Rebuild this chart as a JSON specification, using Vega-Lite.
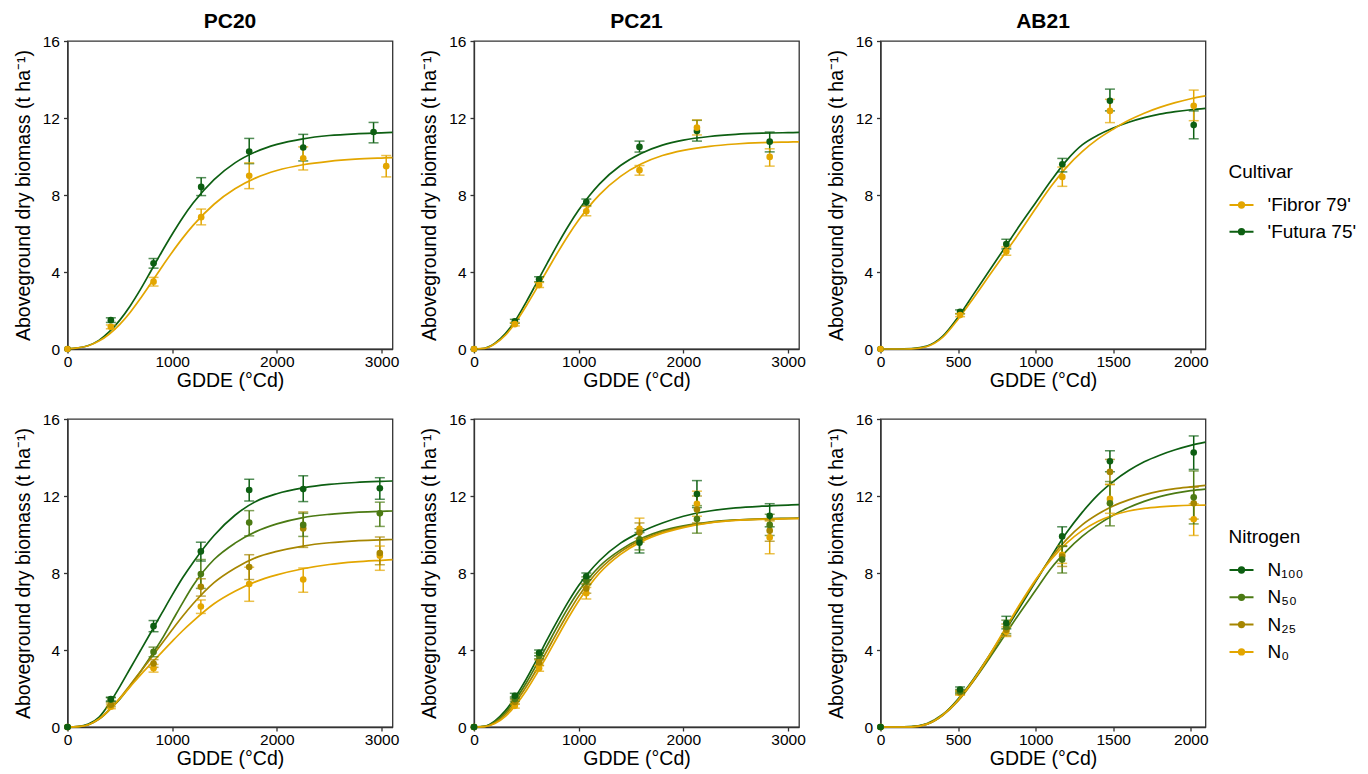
{
"$schema":"https://vega.github.io/schema/vega-lite/v6.json",
"padding":{"left":12.5,"top":10,"right":0,"bottom":0},
"background":"white",
"config":{
 "font":"Liberation Sans",
 "view":{"stroke":"#333333","strokeWidth":1.3},
 "axis":{"domainColor":"#333333","tickColor":"#333333","labelColor":"#000000","titleColor":"#000000","labelFontSize":15.5,"titleFontSize":19.5,"titleFontWeight":"normal","grid":false,"tickSize":4,"labelPadding":4,"domainWidth":1.3,"tickWidth":1.3,"labelFlush":false,"labelOverlap":false},
 "axisX":{"titlePadding":2,"labelPadding":1,"format":"d"},
 "axisY":{"titlePadding":9},
 "title":{"fontSize":21,"fontWeight":"bold","offset":2,"color":"#000000","anchor":"middle"},
 "legend":{"titleFontSize":19,"titleFontWeight":"normal","labelFontSize":19,"titleColor":"#000000","labelColor":"#000000","symbolType":"M-1,0H1M-0.22,0A0.22,0.22 0 1,1 0.22,0A0.22,0.22 0 1,1 -0.22,0Z","symbolSize":576,"symbolStrokeWidth":2,"symbolOpacity":1,"labelOffset":13,"titlePadding":10,"padding":0}
},
"datasets":{
"curves":[
{"p":"P20c","s":"'Futura 75'","x":0,"y":0.01},{"p":"P20c","s":"'Futura 75'","x":100,"y":0.06},{"p":"P20c","s":"'Futura 75'","x":200,"y":0.18},{"p":"P20c","s":"'Futura 75'","x":300,"y":0.45},{"p":"P20c","s":"'Futura 75'","x":400,"y":0.9},{"p":"P20c","s":"'Futura 75'","x":500,"y":1.5},{"p":"P20c","s":"'Futura 75'","x":600,"y":2.25},{"p":"P20c","s":"'Futura 75'","x":700,"y":3.12},{"p":"P20c","s":"'Futura 75'","x":800,"y":4.08},{"p":"P20c","s":"'Futura 75'","x":900,"y":5.04},{"p":"P20c","s":"'Futura 75'","x":1000,"y":5.96},{"p":"P20c","s":"'Futura 75'","x":1100,"y":6.82},{"p":"P20c","s":"'Futura 75'","x":1200,"y":7.58},{"p":"P20c","s":"'Futura 75'","x":1400,"y":8.8},{"p":"P20c","s":"'Futura 75'","x":1600,"y":9.67},{"p":"P20c","s":"'Futura 75'","x":1800,"y":10.25},{"p":"P20c","s":"'Futura 75'","x":2000,"y":10.63},{"p":"P20c","s":"'Futura 75'","x":2250,"y":10.92},{"p":"P20c","s":"'Futura 75'","x":2500,"y":11.09},{"p":"P20c","s":"'Futura 75'","x":2750,"y":11.18},{"p":"P20c","s":"'Futura 75'","x":3000,"y":11.23},{"p":"P20c","s":"'Futura 75'","x":3105,"y":11.25},
{"p":"P20c","s":"'Fibror 79'","x":0,"y":0.01},{"p":"P20c","s":"'Fibror 79'","x":100,"y":0.06},{"p":"P20c","s":"'Fibror 79'","x":200,"y":0.17},{"p":"P20c","s":"'Fibror 79'","x":300,"y":0.41},{"p":"P20c","s":"'Fibror 79'","x":400,"y":0.78},{"p":"P20c","s":"'Fibror 79'","x":500,"y":1.28},{"p":"P20c","s":"'Fibror 79'","x":600,"y":1.91},{"p":"P20c","s":"'Fibror 79'","x":700,"y":2.65},{"p":"P20c","s":"'Fibror 79'","x":800,"y":3.44},{"p":"P20c","s":"'Fibror 79'","x":900,"y":4.25},{"p":"P20c","s":"'Fibror 79'","x":1000,"y":5.03},{"p":"P20c","s":"'Fibror 79'","x":1100,"y":5.76},{"p":"P20c","s":"'Fibror 79'","x":1200,"y":6.42},{"p":"P20c","s":"'Fibror 79'","x":1400,"y":7.52},{"p":"P20c","s":"'Fibror 79'","x":1600,"y":8.32},{"p":"P20c","s":"'Fibror 79'","x":1800,"y":8.89},{"p":"P20c","s":"'Fibror 79'","x":2000,"y":9.27},{"p":"P20c","s":"'Fibror 79'","x":2250,"y":9.57},{"p":"P20c","s":"'Fibror 79'","x":2500,"y":9.75},{"p":"P20c","s":"'Fibror 79'","x":2750,"y":9.86},{"p":"P20c","s":"'Fibror 79'","x":3000,"y":9.92},{"p":"P20c","s":"'Fibror 79'","x":3105,"y":9.94},
{"p":"P21c","s":"'Futura 75'","x":0,"y":0},{"p":"P21c","s":"'Futura 75'","x":100,"y":0.04},{"p":"P21c","s":"'Futura 75'","x":200,"y":0.3},{"p":"P21c","s":"'Futura 75'","x":300,"y":0.8},{"p":"P21c","s":"'Futura 75'","x":400,"y":1.52},{"p":"P21c","s":"'Futura 75'","x":500,"y":2.45},{"p":"P21c","s":"'Futura 75'","x":600,"y":3.45},{"p":"P21c","s":"'Futura 75'","x":700,"y":4.46},{"p":"P21c","s":"'Futura 75'","x":800,"y":5.45},{"p":"P21c","s":"'Futura 75'","x":900,"y":6.38},{"p":"P21c","s":"'Futura 75'","x":1000,"y":7.22},{"p":"P21c","s":"'Futura 75'","x":1100,"y":7.95},{"p":"P21c","s":"'Futura 75'","x":1200,"y":8.58},{"p":"P21c","s":"'Futura 75'","x":1400,"y":9.53},{"p":"P21c","s":"'Futura 75'","x":1600,"y":10.17},{"p":"P21c","s":"'Futura 75'","x":1800,"y":10.59},{"p":"P21c","s":"'Futura 75'","x":2000,"y":10.85},{"p":"P21c","s":"'Futura 75'","x":2250,"y":11.04},{"p":"P21c","s":"'Futura 75'","x":2500,"y":11.15},{"p":"P21c","s":"'Futura 75'","x":2750,"y":11.21},{"p":"P21c","s":"'Futura 75'","x":3000,"y":11.24},{"p":"P21c","s":"'Futura 75'","x":3105,"y":11.25},
{"p":"P21c","s":"'Fibror 79'","x":0,"y":0},{"p":"P21c","s":"'Fibror 79'","x":100,"y":0.03},{"p":"P21c","s":"'Fibror 79'","x":200,"y":0.27},{"p":"P21c","s":"'Fibror 79'","x":300,"y":0.72},{"p":"P21c","s":"'Fibror 79'","x":400,"y":1.4},{"p":"P21c","s":"'Fibror 79'","x":500,"y":2.25},{"p":"P21c","s":"'Fibror 79'","x":600,"y":3.16},{"p":"P21c","s":"'Fibror 79'","x":700,"y":4.09},{"p":"P21c","s":"'Fibror 79'","x":800,"y":5.02},{"p":"P21c","s":"'Fibror 79'","x":900,"y":5.9},{"p":"P21c","s":"'Fibror 79'","x":1000,"y":6.7},{"p":"P21c","s":"'Fibror 79'","x":1100,"y":7.41},{"p":"P21c","s":"'Fibror 79'","x":1200,"y":8.02},{"p":"P21c","s":"'Fibror 79'","x":1400,"y":8.97},{"p":"P21c","s":"'Fibror 79'","x":1600,"y":9.62},{"p":"P21c","s":"'Fibror 79'","x":1800,"y":10.05},{"p":"P21c","s":"'Fibror 79'","x":2000,"y":10.32},{"p":"P21c","s":"'Fibror 79'","x":2250,"y":10.53},{"p":"P21c","s":"'Fibror 79'","x":2500,"y":10.65},{"p":"P21c","s":"'Fibror 79'","x":2750,"y":10.72},{"p":"P21c","s":"'Fibror 79'","x":3000,"y":10.75},{"p":"P21c","s":"'Fibror 79'","x":3105,"y":10.76},
{"p":"A21c","s":"'Futura 75'","x":0,"y":0},{"p":"A21c","s":"'Futura 75'","x":100,"y":0},{"p":"A21c","s":"'Futura 75'","x":200,"y":0.02},{"p":"A21c","s":"'Futura 75'","x":300,"y":0.15},{"p":"A21c","s":"'Futura 75'","x":400,"y":0.65},{"p":"A21c","s":"'Futura 75'","x":500,"y":1.65},{"p":"A21c","s":"'Futura 75'","x":600,"y":2.85},{"p":"A21c","s":"'Futura 75'","x":700,"y":4.05},{"p":"A21c","s":"'Futura 75'","x":800,"y":5.25},{"p":"A21c","s":"'Futura 75'","x":900,"y":6.45},{"p":"A21c","s":"'Futura 75'","x":1000,"y":7.6},{"p":"A21c","s":"'Futura 75'","x":1100,"y":8.75},{"p":"A21c","s":"'Futura 75'","x":1200,"y":9.8},{"p":"A21c","s":"'Futura 75'","x":1300,"y":10.6},{"p":"A21c","s":"'Futura 75'","x":1400,"y":11.1},{"p":"A21c","s":"'Futura 75'","x":1500,"y":11.48},{"p":"A21c","s":"'Futura 75'","x":1600,"y":11.78},{"p":"A21c","s":"'Futura 75'","x":1700,"y":12.02},{"p":"A21c","s":"'Futura 75'","x":1800,"y":12.2},{"p":"A21c","s":"'Futura 75'","x":1900,"y":12.33},{"p":"A21c","s":"'Futura 75'","x":2000,"y":12.43},{"p":"A21c","s":"'Futura 75'","x":2095,"y":12.5},
{"p":"A21c","s":"'Fibror 79'","x":0,"y":0},{"p":"A21c","s":"'Fibror 79'","x":100,"y":0},{"p":"A21c","s":"'Fibror 79'","x":200,"y":0.01},{"p":"A21c","s":"'Fibror 79'","x":300,"y":0.13},{"p":"A21c","s":"'Fibror 79'","x":400,"y":0.6},{"p":"A21c","s":"'Fibror 79'","x":500,"y":1.55},{"p":"A21c","s":"'Fibror 79'","x":600,"y":2.65},{"p":"A21c","s":"'Fibror 79'","x":700,"y":3.8},{"p":"A21c","s":"'Fibror 79'","x":800,"y":4.95},{"p":"A21c","s":"'Fibror 79'","x":900,"y":6.1},{"p":"A21c","s":"'Fibror 79'","x":1000,"y":7.3},{"p":"A21c","s":"'Fibror 79'","x":1100,"y":8.45},{"p":"A21c","s":"'Fibror 79'","x":1200,"y":9.45},{"p":"A21c","s":"'Fibror 79'","x":1300,"y":10.25},{"p":"A21c","s":"'Fibror 79'","x":1400,"y":10.9},{"p":"A21c","s":"'Fibror 79'","x":1500,"y":11.42},{"p":"A21c","s":"'Fibror 79'","x":1600,"y":11.88},{"p":"A21c","s":"'Fibror 79'","x":1700,"y":12.25},{"p":"A21c","s":"'Fibror 79'","x":1800,"y":12.55},{"p":"A21c","s":"'Fibror 79'","x":1900,"y":12.8},{"p":"A21c","s":"'Fibror 79'","x":2000,"y":13.0},{"p":"A21c","s":"'Fibror 79'","x":2095,"y":13.15},
{"p":"P20n","s":"N₁₀₀","x":0,"y":0},{"p":"P20n","s":"N₁₀₀","x":100,"y":0.02},{"p":"P20n","s":"N₁₀₀","x":200,"y":0.15},{"p":"P20n","s":"N₁₀₀","x":300,"y":0.5},{"p":"P20n","s":"N₁₀₀","x":400,"y":1.22},{"p":"P20n","s":"N₁₀₀","x":500,"y":2.1},{"p":"P20n","s":"N₁₀₀","x":600,"y":3.05},{"p":"P20n","s":"N₁₀₀","x":700,"y":4.0},{"p":"P20n","s":"N₁₀₀","x":800,"y":4.95},{"p":"P20n","s":"N₁₀₀","x":900,"y":5.9},{"p":"P20n","s":"N₁₀₀","x":1000,"y":6.85},{"p":"P20n","s":"N₁₀₀","x":1100,"y":7.75},{"p":"P20n","s":"N₁₀₀","x":1200,"y":8.55},{"p":"P20n","s":"N₁₀₀","x":1400,"y":9.95},{"p":"P20n","s":"N₁₀₀","x":1600,"y":11.0},{"p":"P20n","s":"N₁₀₀","x":1800,"y":11.72},{"p":"P20n","s":"N₁₀₀","x":2000,"y":12.12},{"p":"P20n","s":"N₁₀₀","x":2250,"y":12.42},{"p":"P20n","s":"N₁₀₀","x":2500,"y":12.6},{"p":"P20n","s":"N₁₀₀","x":2750,"y":12.7},{"p":"P20n","s":"N₁₀₀","x":3000,"y":12.76},{"p":"P20n","s":"N₁₀₀","x":3105,"y":12.78},
{"p":"P20n","s":"N₅₀","x":0,"y":0},{"p":"P20n","s":"N₅₀","x":100,"y":0.02},{"p":"P20n","s":"N₅₀","x":200,"y":0.12},{"p":"P20n","s":"N₅₀","x":300,"y":0.42},{"p":"P20n","s":"N₅₀","x":400,"y":0.9},{"p":"P20n","s":"N₅₀","x":500,"y":1.45},{"p":"P20n","s":"N₅₀","x":600,"y":2.15},{"p":"P20n","s":"N₅₀","x":700,"y":2.9},{"p":"P20n","s":"N₅₀","x":800,"y":3.7},{"p":"P20n","s":"N₅₀","x":900,"y":4.55},{"p":"P20n","s":"N₅₀","x":1000,"y":5.5},{"p":"P20n","s":"N₅₀","x":1100,"y":6.45},{"p":"P20n","s":"N₅₀","x":1200,"y":7.35},{"p":"P20n","s":"N₅₀","x":1400,"y":8.7},{"p":"P20n","s":"N₅₀","x":1600,"y":9.55},{"p":"P20n","s":"N₅₀","x":1800,"y":10.15},{"p":"P20n","s":"N₅₀","x":2000,"y":10.55},{"p":"P20n","s":"N₅₀","x":2250,"y":10.88},{"p":"P20n","s":"N₅₀","x":2500,"y":11.05},{"p":"P20n","s":"N₅₀","x":2750,"y":11.15},{"p":"P20n","s":"N₅₀","x":3000,"y":11.2},{"p":"P20n","s":"N₅₀","x":3105,"y":11.22},
{"p":"P20n","s":"N₂₅","x":0,"y":0},{"p":"P20n","s":"N₂₅","x":100,"y":0.02},{"p":"P20n","s":"N₂₅","x":200,"y":0.12},{"p":"P20n","s":"N₂₅","x":300,"y":0.4},{"p":"P20n","s":"N₂₅","x":400,"y":0.88},{"p":"P20n","s":"N₂₅","x":500,"y":1.5},{"p":"P20n","s":"N₂₅","x":600,"y":2.2},{"p":"P20n","s":"N₂₅","x":700,"y":2.9},{"p":"P20n","s":"N₂₅","x":800,"y":3.6},{"p":"P20n","s":"N₂₅","x":900,"y":4.33},{"p":"P20n","s":"N₂₅","x":1000,"y":5.05},{"p":"P20n","s":"N₂₅","x":1100,"y":5.75},{"p":"P20n","s":"N₂₅","x":1200,"y":6.4},{"p":"P20n","s":"N₂₅","x":1400,"y":7.5},{"p":"P20n","s":"N₂₅","x":1600,"y":8.25},{"p":"P20n","s":"N₂₅","x":1800,"y":8.8},{"p":"P20n","s":"N₂₅","x":2000,"y":9.12},{"p":"P20n","s":"N₂₅","x":2250,"y":9.4},{"p":"P20n","s":"N₂₅","x":2500,"y":9.57},{"p":"P20n","s":"N₂₅","x":2750,"y":9.67},{"p":"P20n","s":"N₂₅","x":3000,"y":9.72},{"p":"P20n","s":"N₂₅","x":3105,"y":9.74},
{"p":"P20n","s":"N₀","x":0,"y":0},{"p":"P20n","s":"N₀","x":100,"y":0.02},{"p":"P20n","s":"N₀","x":200,"y":0.12},{"p":"P20n","s":"N₀","x":300,"y":0.42},{"p":"P20n","s":"N₀","x":400,"y":0.9},{"p":"P20n","s":"N₀","x":500,"y":1.48},{"p":"P20n","s":"N₀","x":600,"y":2.1},{"p":"P20n","s":"N₀","x":700,"y":2.72},{"p":"P20n","s":"N₀","x":800,"y":3.3},{"p":"P20n","s":"N₀","x":900,"y":3.88},{"p":"P20n","s":"N₀","x":1000,"y":4.45},{"p":"P20n","s":"N₀","x":1100,"y":5.0},{"p":"P20n","s":"N₀","x":1200,"y":5.5},{"p":"P20n","s":"N₀","x":1400,"y":6.4},{"p":"P20n","s":"N₀","x":1600,"y":7.05},{"p":"P20n","s":"N₀","x":1800,"y":7.55},{"p":"P20n","s":"N₀","x":2000,"y":7.9},{"p":"P20n","s":"N₀","x":2250,"y":8.22},{"p":"P20n","s":"N₀","x":2500,"y":8.44},{"p":"P20n","s":"N₀","x":2750,"y":8.58},{"p":"P20n","s":"N₀","x":3000,"y":8.66},{"p":"P20n","s":"N₀","x":3105,"y":8.69},
{"p":"P21n","s":"N₁₀₀","x":0,"y":0},{"p":"P21n","s":"N₁₀₀","x":100,"y":0.04},{"p":"P21n","s":"N₁₀₀","x":200,"y":0.32},{"p":"P21n","s":"N₁₀₀","x":300,"y":0.85},{"p":"P21n","s":"N₁₀₀","x":400,"y":1.6},{"p":"P21n","s":"N₁₀₀","x":500,"y":2.5},{"p":"P21n","s":"N₁₀₀","x":600,"y":3.5},{"p":"P21n","s":"N₁₀₀","x":700,"y":4.55},{"p":"P21n","s":"N₁₀₀","x":800,"y":5.55},{"p":"P21n","s":"N₁₀₀","x":900,"y":6.5},{"p":"P21n","s":"N₁₀₀","x":1000,"y":7.35},{"p":"P21n","s":"N₁₀₀","x":1100,"y":8.05},{"p":"P21n","s":"N₁₀₀","x":1200,"y":8.65},{"p":"P21n","s":"N₁₀₀","x":1400,"y":9.55},{"p":"P21n","s":"N₁₀₀","x":1600,"y":10.15},{"p":"P21n","s":"N₁₀₀","x":1800,"y":10.6},{"p":"P21n","s":"N₁₀₀","x":2000,"y":10.95},{"p":"P21n","s":"N₁₀₀","x":2250,"y":11.22},{"p":"P21n","s":"N₁₀₀","x":2500,"y":11.38},{"p":"P21n","s":"N₁₀₀","x":2750,"y":11.47},{"p":"P21n","s":"N₁₀₀","x":3000,"y":11.53},{"p":"P21n","s":"N₁₀₀","x":3105,"y":11.55},
{"p":"P21n","s":"N₅₀","x":0,"y":0},{"p":"P21n","s":"N₅₀","x":100,"y":0.03},{"p":"P21n","s":"N₅₀","x":200,"y":0.27},{"p":"P21n","s":"N₅₀","x":300,"y":0.75},{"p":"P21n","s":"N₅₀","x":400,"y":1.45},{"p":"P21n","s":"N₅₀","x":500,"y":2.3},{"p":"P21n","s":"N₅₀","x":600,"y":3.25},{"p":"P21n","s":"N₅₀","x":700,"y":4.25},{"p":"P21n","s":"N₅₀","x":800,"y":5.25},{"p":"P21n","s":"N₅₀","x":900,"y":6.2},{"p":"P21n","s":"N₅₀","x":1000,"y":7.05},{"p":"P21n","s":"N₅₀","x":1100,"y":7.75},{"p":"P21n","s":"N₅₀","x":1200,"y":8.35},{"p":"P21n","s":"N₅₀","x":1400,"y":9.2},{"p":"P21n","s":"N₅₀","x":1600,"y":9.8},{"p":"P21n","s":"N₅₀","x":1800,"y":10.2},{"p":"P21n","s":"N₅₀","x":2000,"y":10.45},{"p":"P21n","s":"N₅₀","x":2250,"y":10.65},{"p":"P21n","s":"N₅₀","x":2500,"y":10.76},{"p":"P21n","s":"N₅₀","x":2750,"y":10.81},{"p":"P21n","s":"N₅₀","x":3000,"y":10.84},{"p":"P21n","s":"N₅₀","x":3105,"y":10.85},
{"p":"P21n","s":"N₂₅","x":0,"y":0},{"p":"P21n","s":"N₂₅","x":100,"y":0.02},{"p":"P21n","s":"N₂₅","x":200,"y":0.22},{"p":"P21n","s":"N₂₅","x":300,"y":0.65},{"p":"P21n","s":"N₂₅","x":400,"y":1.3},{"p":"P21n","s":"N₂₅","x":500,"y":2.1},{"p":"P21n","s":"N₂₅","x":600,"y":3.0},{"p":"P21n","s":"N₂₅","x":700,"y":3.98},{"p":"P21n","s":"N₂₅","x":800,"y":4.97},{"p":"P21n","s":"N₂₅","x":900,"y":5.92},{"p":"P21n","s":"N₂₅","x":1000,"y":6.8},{"p":"P21n","s":"N₂₅","x":1100,"y":7.55},{"p":"P21n","s":"N₂₅","x":1200,"y":8.18},{"p":"P21n","s":"N₂₅","x":1400,"y":9.1},{"p":"P21n","s":"N₂₅","x":1600,"y":9.72},{"p":"P21n","s":"N₂₅","x":1800,"y":10.13},{"p":"P21n","s":"N₂₅","x":2000,"y":10.4},{"p":"P21n","s":"N₂₅","x":2250,"y":10.62},{"p":"P21n","s":"N₂₅","x":2500,"y":10.74},{"p":"P21n","s":"N₂₅","x":2750,"y":10.8},{"p":"P21n","s":"N₂₅","x":3000,"y":10.83},{"p":"P21n","s":"N₂₅","x":3105,"y":10.84},
{"p":"P21n","s":"N₀","x":0,"y":0},{"p":"P21n","s":"N₀","x":100,"y":0.02},{"p":"P21n","s":"N₀","x":200,"y":0.18},{"p":"P21n","s":"N₀","x":300,"y":0.55},{"p":"P21n","s":"N₀","x":400,"y":1.15},{"p":"P21n","s":"N₀","x":500,"y":1.9},{"p":"P21n","s":"N₀","x":600,"y":2.78},{"p":"P21n","s":"N₀","x":700,"y":3.72},{"p":"P21n","s":"N₀","x":800,"y":4.7},{"p":"P21n","s":"N₀","x":900,"y":5.66},{"p":"P21n","s":"N₀","x":1000,"y":6.55},{"p":"P21n","s":"N₀","x":1100,"y":7.33},{"p":"P21n","s":"N₀","x":1200,"y":8.0},{"p":"P21n","s":"N₀","x":1400,"y":8.97},{"p":"P21n","s":"N₀","x":1600,"y":9.63},{"p":"P21n","s":"N₀","x":1800,"y":10.07},{"p":"P21n","s":"N₀","x":2000,"y":10.36},{"p":"P21n","s":"N₀","x":2250,"y":10.6},{"p":"P21n","s":"N₀","x":2500,"y":10.73},{"p":"P21n","s":"N₀","x":2750,"y":10.79},{"p":"P21n","s":"N₀","x":3000,"y":10.82},{"p":"P21n","s":"N₀","x":3105,"y":10.83},
{"p":"A21n","s":"N₁₀₀","x":0,"y":0},{"p":"A21n","s":"N₁₀₀","x":100,"y":0},{"p":"A21n","s":"N₁₀₀","x":200,"y":0.02},{"p":"A21n","s":"N₁₀₀","x":300,"y":0.15},{"p":"A21n","s":"N₁₀₀","x":400,"y":0.62},{"p":"A21n","s":"N₁₀₀","x":500,"y":1.45},{"p":"A21n","s":"N₁₀₀","x":600,"y":2.5},{"p":"A21n","s":"N₁₀₀","x":700,"y":3.7},{"p":"A21n","s":"N₁₀₀","x":800,"y":4.95},{"p":"A21n","s":"N₁₀₀","x":900,"y":6.25},{"p":"A21n","s":"N₁₀₀","x":1000,"y":7.55},{"p":"A21n","s":"N₁₀₀","x":1100,"y":8.85},{"p":"A21n","s":"N₁₀₀","x":1200,"y":10.1},{"p":"A21n","s":"N₁₀₀","x":1300,"y":11.15},{"p":"A21n","s":"N₁₀₀","x":1400,"y":12.05},{"p":"A21n","s":"N₁₀₀","x":1500,"y":12.75},{"p":"A21n","s":"N₁₀₀","x":1600,"y":13.32},{"p":"A21n","s":"N₁₀₀","x":1700,"y":13.78},{"p":"A21n","s":"N₁₀₀","x":1800,"y":14.12},{"p":"A21n","s":"N₁₀₀","x":1900,"y":14.4},{"p":"A21n","s":"N₁₀₀","x":2000,"y":14.63},{"p":"A21n","s":"N₁₀₀","x":2095,"y":14.8},
{"p":"A21n","s":"N₅₀","x":0,"y":0},{"p":"A21n","s":"N₅₀","x":100,"y":0},{"p":"A21n","s":"N₅₀","x":200,"y":0.02},{"p":"A21n","s":"N₅₀","x":300,"y":0.18},{"p":"A21n","s":"N₅₀","x":400,"y":0.65},{"p":"A21n","s":"N₅₀","x":500,"y":1.4},{"p":"A21n","s":"N₅₀","x":600,"y":2.4},{"p":"A21n","s":"N₅₀","x":700,"y":3.55},{"p":"A21n","s":"N₅₀","x":800,"y":4.75},{"p":"A21n","s":"N₅₀","x":900,"y":5.95},{"p":"A21n","s":"N₅₀","x":1000,"y":7.1},{"p":"A21n","s":"N₅₀","x":1100,"y":8.25},{"p":"A21n","s":"N₅₀","x":1200,"y":9.15},{"p":"A21n","s":"N₅₀","x":1300,"y":9.9},{"p":"A21n","s":"N₅₀","x":1400,"y":10.5},{"p":"A21n","s":"N₅₀","x":1500,"y":11.0},{"p":"A21n","s":"N₅₀","x":1600,"y":11.4},{"p":"A21n","s":"N₅₀","x":1700,"y":11.72},{"p":"A21n","s":"N₅₀","x":1800,"y":11.97},{"p":"A21n","s":"N₅₀","x":1900,"y":12.15},{"p":"A21n","s":"N₅₀","x":2000,"y":12.28},{"p":"A21n","s":"N₅₀","x":2095,"y":12.36},
{"p":"A21n","s":"N₂₅","x":0,"y":0},{"p":"A21n","s":"N₂₅","x":100,"y":0},{"p":"A21n","s":"N₂₅","x":200,"y":0.01},{"p":"A21n","s":"N₂₅","x":300,"y":0.15},{"p":"A21n","s":"N₂₅","x":400,"y":0.6},{"p":"A21n","s":"N₂₅","x":500,"y":1.35},{"p":"A21n","s":"N₂₅","x":600,"y":2.4},{"p":"A21n","s":"N₂₅","x":700,"y":3.65},{"p":"A21n","s":"N₂₅","x":800,"y":5.0},{"p":"A21n","s":"N₂₅","x":900,"y":6.35},{"p":"A21n","s":"N₂₅","x":1000,"y":7.6},{"p":"A21n","s":"N₂₅","x":1100,"y":8.8},{"p":"A21n","s":"N₂₅","x":1200,"y":9.75},{"p":"A21n","s":"N₂₅","x":1300,"y":10.5},{"p":"A21n","s":"N₂₅","x":1400,"y":11.05},{"p":"A21n","s":"N₂₅","x":1500,"y":11.48},{"p":"A21n","s":"N₂₅","x":1600,"y":11.8},{"p":"A21n","s":"N₂₅","x":1700,"y":12.06},{"p":"A21n","s":"N₂₅","x":1800,"y":12.25},{"p":"A21n","s":"N₂₅","x":1900,"y":12.38},{"p":"A21n","s":"N₂₅","x":2000,"y":12.47},{"p":"A21n","s":"N₂₅","x":2095,"y":12.55},
{"p":"A21n","s":"N₀","x":0,"y":0},{"p":"A21n","s":"N₀","x":100,"y":0},{"p":"A21n","s":"N₀","x":200,"y":0.01},{"p":"A21n","s":"N₀","x":300,"y":0.15},{"p":"A21n","s":"N₀","x":400,"y":0.62},{"p":"A21n","s":"N₀","x":500,"y":1.4},{"p":"A21n","s":"N₀","x":600,"y":2.45},{"p":"A21n","s":"N₀","x":700,"y":3.7},{"p":"A21n","s":"N₀","x":800,"y":5.05},{"p":"A21n","s":"N₀","x":900,"y":6.4},{"p":"A21n","s":"N₀","x":1000,"y":7.65},{"p":"A21n","s":"N₀","x":1100,"y":8.7},{"p":"A21n","s":"N₀","x":1200,"y":9.55},{"p":"A21n","s":"N₀","x":1300,"y":10.2},{"p":"A21n","s":"N₀","x":1400,"y":10.68},{"p":"A21n","s":"N₀","x":1500,"y":11.0},{"p":"A21n","s":"N₀","x":1600,"y":11.22},{"p":"A21n","s":"N₀","x":1700,"y":11.36},{"p":"A21n","s":"N₀","x":1800,"y":11.44},{"p":"A21n","s":"N₀","x":1900,"y":11.49},{"p":"A21n","s":"N₀","x":2000,"y":11.52},{"p":"A21n","s":"N₀","x":2095,"y":11.53}
],
"obs":[
{"p":"P20c","s":"'Futura 75'","x":0,"y":0,"lo":null,"hi":null},{"p":"P20c","s":"'Futura 75'","x":414,"y":1.5,"lo":1.38,"hi":1.62},{"p":"P20c","s":"'Futura 75'","x":822,"y":4.45,"lo":4.2,"hi":4.7},{"p":"P20c","s":"'Futura 75'","x":1277,"y":8.42,"lo":7.97,"hi":8.9},{"p":"P20c","s":"'Futura 75'","x":1736,"y":10.26,"lo":9.63,"hi":10.94},{"p":"P20c","s":"'Futura 75'","x":2252,"y":10.47,"lo":9.77,"hi":11.15},{"p":"P20c","s":"'Futura 75'","x":2924,"y":11.27,"lo":10.71,"hi":11.77},
{"p":"P20c","s":"'Fibror 79'","x":0,"y":0,"lo":null,"hi":null},{"p":"P20c","s":"'Fibror 79'","x":414,"y":1.15,"lo":1.05,"hi":1.25},{"p":"P20c","s":"'Fibror 79'","x":822,"y":3.5,"lo":3.27,"hi":3.72},{"p":"P20c","s":"'Fibror 79'","x":1277,"y":6.85,"lo":6.45,"hi":7.27},{"p":"P20c","s":"'Fibror 79'","x":1736,"y":9.0,"lo":8.33,"hi":9.67},{"p":"P20c","s":"'Fibror 79'","x":2252,"y":9.91,"lo":9.3,"hi":10.5},{"p":"P20c","s":"'Fibror 79'","x":3045,"y":9.5,"lo":8.94,"hi":10.05},
{"p":"P21c","s":"'Futura 75'","x":0,"y":0,"lo":null,"hi":null},{"p":"P21c","s":"'Futura 75'","x":390,"y":1.44,"lo":1.34,"hi":1.54},{"p":"P21c","s":"'Futura 75'","x":622,"y":3.62,"lo":3.5,"hi":3.75},{"p":"P21c","s":"'Futura 75'","x":1073,"y":7.63,"lo":7.44,"hi":7.79},{"p":"P21c","s":"'Futura 75'","x":1581,"y":10.5,"lo":10.23,"hi":10.8},{"p":"P21c","s":"'Futura 75'","x":2130,"y":11.32,"lo":10.8,"hi":11.88},{"p":"P21c","s":"'Futura 75'","x":2825,"y":10.77,"lo":10.24,"hi":11.27},
{"p":"P21c","s":"'Fibror 79'","x":0,"y":0,"lo":null,"hi":null},{"p":"P21c","s":"'Fibror 79'","x":390,"y":1.29,"lo":1.2,"hi":1.38},{"p":"P21c","s":"'Fibror 79'","x":622,"y":3.32,"lo":3.2,"hi":3.45},{"p":"P21c","s":"'Fibror 79'","x":1073,"y":7.15,"lo":6.92,"hi":7.41},{"p":"P21c","s":"'Fibror 79'","x":1581,"y":9.29,"lo":9.03,"hi":9.53},{"p":"P21c","s":"'Fibror 79'","x":2130,"y":11.5,"lo":11.12,"hi":11.9},{"p":"P21c","s":"'Fibror 79'","x":2825,"y":9.98,"lo":9.5,"hi":10.4},
{"p":"A21c","s":"'Futura 75'","x":0,"y":0,"lo":null,"hi":null},{"p":"A21c","s":"'Futura 75'","x":513,"y":1.93,"lo":1.83,"hi":2.03},{"p":"A21c","s":"'Futura 75'","x":811,"y":5.45,"lo":5.2,"hi":5.7},{"p":"A21c","s":"'Futura 75'","x":1172,"y":9.6,"lo":9.2,"hi":9.9},{"p":"A21c","s":"'Futura 75'","x":1479,"y":12.89,"lo":12.37,"hi":13.5},{"p":"A21c","s":"'Futura 75'","x":2019,"y":11.63,"lo":10.92,"hi":12.37},
{"p":"A21c","s":"'Fibror 79'","x":0,"y":0,"lo":null,"hi":null},{"p":"A21c","s":"'Fibror 79'","x":513,"y":1.76,"lo":1.68,"hi":1.84},{"p":"A21c","s":"'Fibror 79'","x":811,"y":5.06,"lo":4.87,"hi":5.3},{"p":"A21c","s":"'Fibror 79'","x":1172,"y":8.94,"lo":8.45,"hi":9.45},{"p":"A21c","s":"'Fibror 79'","x":1479,"y":12.37,"lo":11.76,"hi":12.97},{"p":"A21c","s":"'Fibror 79'","x":2019,"y":12.63,"lo":11.86,"hi":13.45},
{"p":"P20n","s":"N₀","x":0,"y":0,"lo":null,"hi":null},{"p":"P20n","s":"N₀","x":414,"y":1.05,"lo":0.95,"hi":1.15},{"p":"P20n","s":"N₀","x":822,"y":3.05,"lo":2.85,"hi":3.25},{"p":"P20n","s":"N₀","x":1274,"y":6.26,"lo":5.9,"hi":6.6},{"p":"P20n","s":"N₀","x":1736,"y":7.43,"lo":6.53,"hi":8.3},{"p":"P20n","s":"N₀","x":2252,"y":7.66,"lo":7.0,"hi":8.26},{"p":"P20n","s":"N₀","x":2984,"y":8.9,"lo":8.14,"hi":9.4},
{"p":"P20n","s":"N₂₅","x":0,"y":0,"lo":null,"hi":null},{"p":"P20n","s":"N₂₅","x":414,"y":1.15,"lo":1.05,"hi":1.25},{"p":"P20n","s":"N₂₅","x":822,"y":3.3,"lo":3.1,"hi":3.5},{"p":"P20n","s":"N₂₅","x":1274,"y":7.28,"lo":6.8,"hi":7.7},{"p":"P20n","s":"N₂₅","x":1736,"y":8.31,"lo":7.66,"hi":8.95},{"p":"P20n","s":"N₂₅","x":2252,"y":10.31,"lo":9.33,"hi":11.17},{"p":"P20n","s":"N₂₅","x":2984,"y":9.04,"lo":8.43,"hi":9.87},
{"p":"P20n","s":"N₅₀","x":0,"y":0,"lo":null,"hi":null},{"p":"P20n","s":"N₅₀","x":414,"y":1.42,"lo":1.32,"hi":1.52},{"p":"P20n","s":"N₅₀","x":822,"y":3.9,"lo":3.65,"hi":4.15},{"p":"P20n","s":"N₅₀","x":1274,"y":7.95,"lo":7.2,"hi":8.7},{"p":"P20n","s":"N₅₀","x":1736,"y":10.62,"lo":9.93,"hi":11.24},{"p":"P20n","s":"N₅₀","x":2252,"y":10.5,"lo":9.9,"hi":11.1},{"p":"P20n","s":"N₅₀","x":2984,"y":11.1,"lo":10.42,"hi":11.68},
{"p":"P20n","s":"N₁₀₀","x":0,"y":0,"lo":null,"hi":null},{"p":"P20n","s":"N₁₀₀","x":414,"y":1.45,"lo":1.35,"hi":1.55},{"p":"P20n","s":"N₁₀₀","x":822,"y":5.24,"lo":4.95,"hi":5.53},{"p":"P20n","s":"N₁₀₀","x":1274,"y":9.12,"lo":8.62,"hi":9.6},{"p":"P20n","s":"N₁₀₀","x":1736,"y":12.31,"lo":11.74,"hi":12.87},{"p":"P20n","s":"N₁₀₀","x":2252,"y":12.36,"lo":11.71,"hi":13.05},{"p":"P20n","s":"N₁₀₀","x":2984,"y":12.4,"lo":11.83,"hi":12.95},
{"p":"P21n","s":"N₀","x":0,"y":0,"lo":null,"hi":null},{"p":"P21n","s":"N₀","x":390,"y":1.1,"lo":0.98,"hi":1.22},{"p":"P21n","s":"N₀","x":622,"y":3.05,"lo":2.9,"hi":3.2},{"p":"P21n","s":"N₀","x":1073,"y":6.95,"lo":6.65,"hi":7.25},{"p":"P21n","s":"N₀","x":1581,"y":10.3,"lo":9.8,"hi":10.85},{"p":"P21n","s":"N₀","x":2130,"y":11.6,"lo":10.95,"hi":12.25},{"p":"P21n","s":"N₀","x":2825,"y":9.85,"lo":9.0,"hi":10.7},
{"p":"P21n","s":"N₂₅","x":0,"y":0,"lo":null,"hi":null},{"p":"P21n","s":"N₂₅","x":390,"y":1.3,"lo":1.18,"hi":1.42},{"p":"P21n","s":"N₂₅","x":622,"y":3.35,"lo":3.2,"hi":3.5},{"p":"P21n","s":"N₂₅","x":1073,"y":7.2,"lo":6.95,"hi":7.45},{"p":"P21n","s":"N₂₅","x":1581,"y":10.1,"lo":9.6,"hi":10.6},{"p":"P21n","s":"N₂₅","x":2130,"y":11.3,"lo":10.6,"hi":12.0},{"p":"P21n","s":"N₂₅","x":2825,"y":10.2,"lo":9.65,"hi":10.75},
{"p":"P21n","s":"N₅₀","x":0,"y":0,"lo":null,"hi":null},{"p":"P21n","s":"N₅₀","x":390,"y":1.45,"lo":1.33,"hi":1.57},{"p":"P21n","s":"N₅₀","x":622,"y":3.7,"lo":3.55,"hi":3.85},{"p":"P21n","s":"N₅₀","x":1073,"y":7.6,"lo":7.4,"hi":7.8},{"p":"P21n","s":"N₅₀","x":1581,"y":9.75,"lo":9.2,"hi":10.3},{"p":"P21n","s":"N₅₀","x":2130,"y":10.8,"lo":10.07,"hi":11.5},{"p":"P21n","s":"N₅₀","x":2825,"y":10.5,"lo":9.95,"hi":11.05},
{"p":"P21n","s":"N₁₀₀","x":0,"y":0,"lo":null,"hi":null},{"p":"P21n","s":"N₁₀₀","x":390,"y":1.62,"lo":1.5,"hi":1.75},{"p":"P21n","s":"N₁₀₀","x":622,"y":3.86,"lo":3.7,"hi":4.0},{"p":"P21n","s":"N₁₀₀","x":1073,"y":7.83,"lo":7.65,"hi":8.0},{"p":"P21n","s":"N₁₀₀","x":1581,"y":9.57,"lo":9.04,"hi":10.1},{"p":"P21n","s":"N₁₀₀","x":2130,"y":12.1,"lo":11.4,"hi":12.8},{"p":"P21n","s":"N₁₀₀","x":2825,"y":10.97,"lo":10.4,"hi":11.6},
{"p":"A21n","s":"N₀","x":0,"y":0,"lo":null,"hi":null},{"p":"A21n","s":"N₀","x":513,"y":1.75,"lo":1.65,"hi":1.85},{"p":"A21n","s":"N₀","x":811,"y":4.95,"lo":4.7,"hi":5.2},{"p":"A21n","s":"N₀","x":1171,"y":8.95,"lo":8.5,"hi":9.4},{"p":"A21n","s":"N₀","x":1479,"y":11.85,"lo":11.1,"hi":12.6},{"p":"A21n","s":"N₀","x":2019,"y":10.79,"lo":9.95,"hi":11.6},
{"p":"A21n","s":"N₂₅","x":0,"y":0,"lo":null,"hi":null},{"p":"A21n","s":"N₂₅","x":513,"y":1.8,"lo":1.7,"hi":1.9},{"p":"A21n","s":"N₂₅","x":811,"y":5.05,"lo":4.75,"hi":5.35},{"p":"A21n","s":"N₂₅","x":1171,"y":8.86,"lo":8.34,"hi":9.4},{"p":"A21n","s":"N₂₅","x":1479,"y":13.25,"lo":12.6,"hi":13.9},{"p":"A21n","s":"N₂₅","x":2019,"y":11.62,"lo":10.8,"hi":12.45},
{"p":"A21n","s":"N₅₀","x":0,"y":0,"lo":null,"hi":null},{"p":"A21n","s":"N₅₀","x":513,"y":1.85,"lo":1.75,"hi":1.95},{"p":"A21n","s":"N₅₀","x":811,"y":5.2,"lo":4.85,"hi":5.55},{"p":"A21n","s":"N₅₀","x":1171,"y":8.7,"lo":8.0,"hi":9.38},{"p":"A21n","s":"N₅₀","x":1479,"y":11.62,"lo":10.45,"hi":12.75},{"p":"A21n","s":"N₅₀","x":2019,"y":11.93,"lo":10.55,"hi":13.3},
{"p":"A21n","s":"N₁₀₀","x":0,"y":0,"lo":null,"hi":null},{"p":"A21n","s":"N₁₀₀","x":513,"y":1.95,"lo":1.82,"hi":2.08},{"p":"A21n","s":"N₁₀₀","x":811,"y":5.4,"lo":5.1,"hi":5.75},{"p":"A21n","s":"N₁₀₀","x":1171,"y":9.9,"lo":9.4,"hi":10.4},{"p":"A21n","s":"N₁₀₀","x":1479,"y":13.8,"lo":13.26,"hi":14.35},{"p":"A21n","s":"N₁₀₀","x":2019,"y":14.26,"lo":13.38,"hi":15.12}
]
},
"resolve":{"scale":{"color":"independent"},"legend":{"color":"independent"}},
"bounds":"flush",
"columns":3,
"spacing":{"row":70,"column":81.5},
"concat":[
 {"width":325,"height":308,"title":{"text":"PC20"},
  "encoding":{"x":{"field":"x","type":"quantitative","title":"GDDE (°Cd)","scale":{"domain":[0,3105],"nice":false,"zero":false},"axis":{"values":[0,1000,2000,3000]}},
   "color":{"field":"s","type":"nominal","scale":{"domain":["'Fibror 79'","'Futura 75'"],"range":["#E3A600","#0D5F12"]},"legend":null}},
  "layer":[
   {"data":{"name":"curves"},"transform":[{"filter":"datum.p==='P20c'"}],"mark":{"type":"line","interpolate":"monotone","strokeWidth":1.7},"encoding":{"y":{"field":"y","type":"quantitative","title":"Aboveground dry biomass (t ha⁻¹)","scale":{"domain":[0,16],"nice":false},"axis":{"values":[0,1,2,3,4,5,6,7,8,9,10,11,12,13,14,15,16],"labelExpr":"datum.value % 4 === 0 ? datum.label : ''"}}}},
   {"data":{"name":"obs"},"transform":[{"filter":"datum.p==='P20c' && datum.lo != null"}],"mark":{"type":"rule","strokeWidth":1.5},"encoding":{"y":{"field":"lo","type":"quantitative","title":"Aboveground dry biomass (t ha⁻¹)"},"y2":{"field":"hi"}}},
   {"data":{"name":"obs"},"transform":[{"filter":"datum.p==='P20c' && datum.lo != null"}],"mark":{"type":"tick","orient":"horizontal","size":10,"thickness":1.5},"encoding":{"y":{"field":"lo","type":"quantitative","title":"Aboveground dry biomass (t ha⁻¹)"}}},
   {"data":{"name":"obs"},"transform":[{"filter":"datum.p==='P20c' && datum.lo != null"}],"mark":{"type":"tick","orient":"horizontal","size":10,"thickness":1.5},"encoding":{"y":{"field":"hi","type":"quantitative","title":"Aboveground dry biomass (t ha⁻¹)"}}},
   {"data":{"name":"obs"},"transform":[{"filter":"datum.p==='P20c'"}],"mark":{"type":"point","filled":true,"size":44,"opacity":1},"encoding":{"y":{"field":"y","type":"quantitative","title":"Aboveground dry biomass (t ha⁻¹)"}}}
  ]},
 {"width":325,"height":308,"title":{"text":"PC21"},
  "encoding":{"x":{"field":"x","type":"quantitative","title":"GDDE (°Cd)","scale":{"domain":[0,3105],"nice":false,"zero":false},"axis":{"values":[0,1000,2000,3000]}},
   "color":{"field":"s","type":"nominal","scale":{"domain":["'Fibror 79'","'Futura 75'"],"range":["#E3A600","#0D5F12"]},"legend":null}},
  "layer":[
   {"data":{"name":"curves"},"transform":[{"filter":"datum.p==='P21c'"}],"mark":{"type":"line","interpolate":"monotone","strokeWidth":1.7},"encoding":{"y":{"field":"y","type":"quantitative","title":"Aboveground dry biomass (t ha⁻¹)","scale":{"domain":[0,16],"nice":false},"axis":{"values":[0,1,2,3,4,5,6,7,8,9,10,11,12,13,14,15,16],"labelExpr":"datum.value % 4 === 0 ? datum.label : ''"}}}},
   {"data":{"name":"obs"},"transform":[{"filter":"datum.p==='P21c' && datum.lo != null"}],"mark":{"type":"rule","strokeWidth":1.5},"encoding":{"y":{"field":"lo","type":"quantitative","title":"Aboveground dry biomass (t ha⁻¹)"},"y2":{"field":"hi"}}},
   {"data":{"name":"obs"},"transform":[{"filter":"datum.p==='P21c' && datum.lo != null"}],"mark":{"type":"tick","orient":"horizontal","size":10,"thickness":1.5},"encoding":{"y":{"field":"lo","type":"quantitative","title":"Aboveground dry biomass (t ha⁻¹)"}}},
   {"data":{"name":"obs"},"transform":[{"filter":"datum.p==='P21c' && datum.lo != null"}],"mark":{"type":"tick","orient":"horizontal","size":10,"thickness":1.5},"encoding":{"y":{"field":"hi","type":"quantitative","title":"Aboveground dry biomass (t ha⁻¹)"}}},
   {"data":{"name":"obs"},"transform":[{"filter":"datum.p==='P21c'"}],"mark":{"type":"point","filled":true,"size":44,"opacity":1},"encoding":{"y":{"field":"y","type":"quantitative","title":"Aboveground dry biomass (t ha⁻¹)"}}}
  ]},
 {"width":325,"height":308,"title":{"text":"AB21"},
  "encoding":{"x":{"field":"x","type":"quantitative","title":"GDDE (°Cd)","scale":{"domain":[0,2095],"nice":false,"zero":false},"axis":{"values":[0,500,1000,1500,2000]}},
   "color":{"field":"s","type":"nominal","scale":{"domain":["'Fibror 79'","'Futura 75'"],"range":["#E3A600","#0D5F12"]},"legend":{"title":"Cultivar","orient":"none","legendX":348,"legendY":122,"rowPadding":3.7}}},
  "layer":[
   {"data":{"name":"curves"},"transform":[{"filter":"datum.p==='A21c'"}],"mark":{"type":"line","interpolate":"monotone","strokeWidth":1.7},"encoding":{"y":{"field":"y","type":"quantitative","title":"Aboveground dry biomass (t ha⁻¹)","scale":{"domain":[0,16],"nice":false},"axis":{"values":[0,1,2,3,4,5,6,7,8,9,10,11,12,13,14,15,16],"labelExpr":"datum.value % 4 === 0 ? datum.label : ''"}}}},
   {"data":{"name":"obs"},"transform":[{"filter":"datum.p==='A21c' && datum.lo != null"}],"mark":{"type":"rule","strokeWidth":1.5},"encoding":{"y":{"field":"lo","type":"quantitative","title":"Aboveground dry biomass (t ha⁻¹)"},"y2":{"field":"hi"}}},
   {"data":{"name":"obs"},"transform":[{"filter":"datum.p==='A21c' && datum.lo != null"}],"mark":{"type":"tick","orient":"horizontal","size":10,"thickness":1.5},"encoding":{"y":{"field":"lo","type":"quantitative","title":"Aboveground dry biomass (t ha⁻¹)"}}},
   {"data":{"name":"obs"},"transform":[{"filter":"datum.p==='A21c' && datum.lo != null"}],"mark":{"type":"tick","orient":"horizontal","size":10,"thickness":1.5},"encoding":{"y":{"field":"hi","type":"quantitative","title":"Aboveground dry biomass (t ha⁻¹)"}}},
   {"data":{"name":"obs"},"transform":[{"filter":"datum.p==='A21c'"}],"mark":{"type":"point","filled":true,"size":44,"opacity":1},"encoding":{"y":{"field":"y","type":"quantitative","title":"Aboveground dry biomass (t ha⁻¹)"}}}
  ]},
 {"width":325,"height":308,
  "encoding":{"x":{"field":"x","type":"quantitative","title":"GDDE (°Cd)","scale":{"domain":[0,3105],"nice":false,"zero":false},"axis":{"values":[0,1000,2000,3000]}},
   "color":{"field":"s","type":"nominal","scale":{"domain":["N₁₀₀","N₅₀","N₂₅","N₀"],"range":["#0D5F12","#4B7A13","#A68600","#E3A600"]},"legend":null}},
  "layer":[
   {"data":{"name":"curves"},"transform":[{"filter":"datum.p==='P20n'"}],"mark":{"type":"line","interpolate":"monotone","strokeWidth":1.7},"encoding":{"y":{"field":"y","type":"quantitative","title":"Aboveground dry biomass (t ha⁻¹)","scale":{"domain":[0,16],"nice":false},"axis":{"values":[0,1,2,3,4,5,6,7,8,9,10,11,12,13,14,15,16],"labelExpr":"datum.value % 4 === 0 ? datum.label : ''"}}}},
   {"data":{"name":"obs"},"transform":[{"filter":"datum.p==='P20n' && datum.lo != null"}],"mark":{"type":"rule","strokeWidth":1.5},"encoding":{"y":{"field":"lo","type":"quantitative","title":"Aboveground dry biomass (t ha⁻¹)"},"y2":{"field":"hi"}}},
   {"data":{"name":"obs"},"transform":[{"filter":"datum.p==='P20n' && datum.lo != null"}],"mark":{"type":"tick","orient":"horizontal","size":10,"thickness":1.5},"encoding":{"y":{"field":"lo","type":"quantitative","title":"Aboveground dry biomass (t ha⁻¹)"}}},
   {"data":{"name":"obs"},"transform":[{"filter":"datum.p==='P20n' && datum.lo != null"}],"mark":{"type":"tick","orient":"horizontal","size":10,"thickness":1.5},"encoding":{"y":{"field":"hi","type":"quantitative","title":"Aboveground dry biomass (t ha⁻¹)"}}},
   {"data":{"name":"obs"},"transform":[{"filter":"datum.p==='P20n'"}],"mark":{"type":"point","filled":true,"size":44,"opacity":1},"encoding":{"y":{"field":"y","type":"quantitative","title":"Aboveground dry biomass (t ha⁻¹)"}}}
  ]},
 {"width":325,"height":308,
  "encoding":{"x":{"field":"x","type":"quantitative","title":"GDDE (°Cd)","scale":{"domain":[0,3105],"nice":false,"zero":false},"axis":{"values":[0,1000,2000,3000]}},
   "color":{"field":"s","type":"nominal","scale":{"domain":["N₁₀₀","N₅₀","N₂₅","N₀"],"range":["#0D5F12","#4B7A13","#A68600","#E3A600"]},"legend":null}},
  "layer":[
   {"data":{"name":"curves"},"transform":[{"filter":"datum.p==='P21n'"}],"mark":{"type":"line","interpolate":"monotone","strokeWidth":1.7},"encoding":{"y":{"field":"y","type":"quantitative","title":"Aboveground dry biomass (t ha⁻¹)","scale":{"domain":[0,16],"nice":false},"axis":{"values":[0,1,2,3,4,5,6,7,8,9,10,11,12,13,14,15,16],"labelExpr":"datum.value % 4 === 0 ? datum.label : ''"}}}},
   {"data":{"name":"obs"},"transform":[{"filter":"datum.p==='P21n' && datum.lo != null"}],"mark":{"type":"rule","strokeWidth":1.5},"encoding":{"y":{"field":"lo","type":"quantitative","title":"Aboveground dry biomass (t ha⁻¹)"},"y2":{"field":"hi"}}},
   {"data":{"name":"obs"},"transform":[{"filter":"datum.p==='P21n' && datum.lo != null"}],"mark":{"type":"tick","orient":"horizontal","size":10,"thickness":1.5},"encoding":{"y":{"field":"lo","type":"quantitative","title":"Aboveground dry biomass (t ha⁻¹)"}}},
   {"data":{"name":"obs"},"transform":[{"filter":"datum.p==='P21n' && datum.lo != null"}],"mark":{"type":"tick","orient":"horizontal","size":10,"thickness":1.5},"encoding":{"y":{"field":"hi","type":"quantitative","title":"Aboveground dry biomass (t ha⁻¹)"}}},
   {"data":{"name":"obs"},"transform":[{"filter":"datum.p==='P21n'"}],"mark":{"type":"point","filled":true,"size":44,"opacity":1},"encoding":{"y":{"field":"y","type":"quantitative","title":"Aboveground dry biomass (t ha⁻¹)"}}}
  ]},
 {"width":325,"height":308,
  "encoding":{"x":{"field":"x","type":"quantitative","title":"GDDE (°Cd)","scale":{"domain":[0,2095],"nice":false,"zero":false},"axis":{"values":[0,500,1000,1500,2000]}},
   "color":{"field":"s","type":"nominal","scale":{"domain":["N₁₀₀","N₅₀","N₂₅","N₀"],"range":["#0D5F12","#4B7A13","#A68600","#E3A600"]},"legend":{"title":"Nitrogen","orient":"none","legendX":348,"legendY":109,"rowPadding":4.3}}},
  "layer":[
   {"data":{"name":"curves"},"transform":[{"filter":"datum.p==='A21n'"}],"mark":{"type":"line","interpolate":"monotone","strokeWidth":1.7},"encoding":{"y":{"field":"y","type":"quantitative","title":"Aboveground dry biomass (t ha⁻¹)","scale":{"domain":[0,16],"nice":false},"axis":{"values":[0,1,2,3,4,5,6,7,8,9,10,11,12,13,14,15,16],"labelExpr":"datum.value % 4 === 0 ? datum.label : ''"}}}},
   {"data":{"name":"obs"},"transform":[{"filter":"datum.p==='A21n' && datum.lo != null"}],"mark":{"type":"rule","strokeWidth":1.5},"encoding":{"y":{"field":"lo","type":"quantitative","title":"Aboveground dry biomass (t ha⁻¹)"},"y2":{"field":"hi"}}},
   {"data":{"name":"obs"},"transform":[{"filter":"datum.p==='A21n' && datum.lo != null"}],"mark":{"type":"tick","orient":"horizontal","size":10,"thickness":1.5},"encoding":{"y":{"field":"lo","type":"quantitative","title":"Aboveground dry biomass (t ha⁻¹)"}}},
   {"data":{"name":"obs"},"transform":[{"filter":"datum.p==='A21n' && datum.lo != null"}],"mark":{"type":"tick","orient":"horizontal","size":10,"thickness":1.5},"encoding":{"y":{"field":"hi","type":"quantitative","title":"Aboveground dry biomass (t ha⁻¹)"}}},
   {"data":{"name":"obs"},"transform":[{"filter":"datum.p==='A21n'"}],"mark":{"type":"point","filled":true,"size":44,"opacity":1},"encoding":{"y":{"field":"y","type":"quantitative","title":"Aboveground dry biomass (t ha⁻¹)"}}}
  ]}
]
}
